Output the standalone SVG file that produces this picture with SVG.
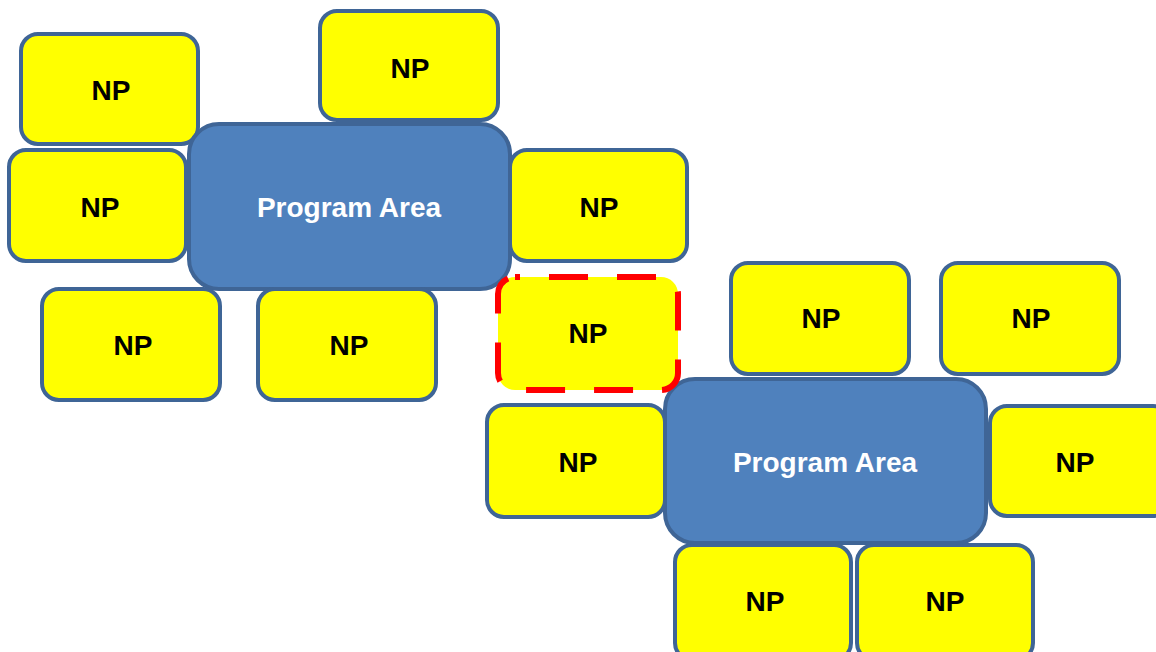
<svg xmlns="http://www.w3.org/2000/svg" width="1156" height="652" viewBox="0 0 1156 652">
<style>
.np{fill:#FFFF00;stroke:#3F6596;stroke-width:4}
.pa{fill:#4F81BD;stroke:#3F6596;stroke-width:4}
.sel{fill:#FFFF00;stroke:#FF0000;stroke-width:6;stroke-dasharray:39 29;stroke-dashoffset:34}
.t{font-family:"Liberation Sans",Arial,sans-serif;font-weight:bold;font-size:28px;text-anchor:middle;fill:#000}
.tw{font-family:"Liberation Sans",Arial,sans-serif;font-weight:bold;font-size:28px;text-anchor:middle;fill:#FFFFFF}
</style>
<rect width="1156" height="652" fill="#FFFFFF"/>
<g id="connectors"/>
<g id="np1"><rect class="np" x="21" y="34" width="177" height="110" rx="17"/><text class="t" x="111" y="100">NP</text></g>
<g id="np2"><rect class="np" x="320" y="11" width="178" height="109" rx="17"/><text class="t" x="410" y="78">NP</text></g>
<g id="np3"><rect class="np" x="9" y="150" width="177" height="111" rx="17"/><text class="t" x="100" y="217">NP</text></g>
<g id="np5"><rect class="np" x="510" y="150" width="177" height="111" rx="17"/><text class="t" x="599" y="217">NP</text></g>
<g id="pa1"><rect class="pa" x="189" y="124" width="321" height="165" rx="30"/><text class="tw" x="349" y="217">Program Area</text></g>
<g id="np6"><rect class="np" x="42" y="289" width="178" height="111" rx="17"/><text class="t" x="133" y="355">NP</text></g>
<g id="np7"><rect class="np" x="258" y="289" width="178" height="111" rx="17"/><text class="t" x="349" y="355">NP</text></g>
<g id="np9"><rect class="np" x="731" y="263" width="178" height="111" rx="17"/><text class="t" x="821" y="328">NP</text></g>
<g id="np10"><rect class="np" x="941" y="263" width="178" height="111" rx="17"/><text class="t" x="1031" y="328">NP</text></g>
<g id="np11"><rect class="np" x="487" y="405" width="178" height="112" rx="17"/><text class="t" x="578" y="472">NP</text></g>
<g id="np13"><rect class="np" x="990" y="406" width="180" height="110" rx="17"/><text class="t" x="1075" y="472">NP</text></g>
<g id="np14"><rect class="np" x="675" y="545" width="176" height="115" rx="17"/><text class="t" x="765" y="611">NP</text></g>
<g id="np15"><rect class="np" x="857" y="545" width="176" height="115" rx="17"/><text class="t" x="945" y="611">NP</text></g>
<g id="pa2"><rect class="pa" x="665" y="379" width="321" height="164" rx="30"/><text class="tw" x="825" y="472">Program Area</text></g>
<g id="np8"><rect class="sel" x="498" y="277" width="180" height="113" rx="17"/><text class="t" x="588" y="343">NP</text></g>
</svg>
